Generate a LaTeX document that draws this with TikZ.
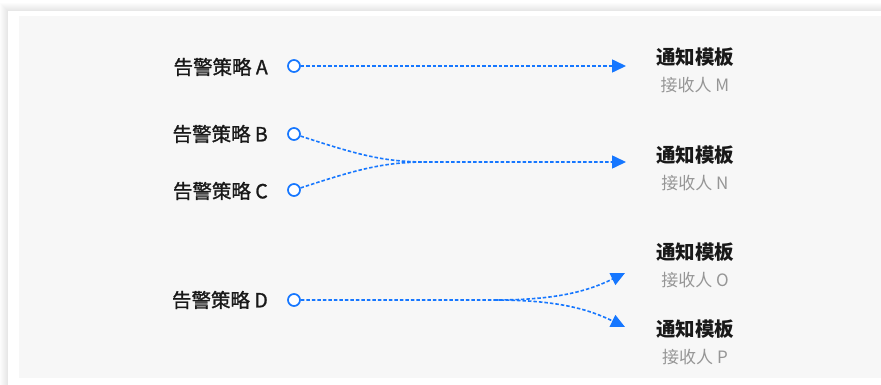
\documentclass[tikz,border=0pt]{standalone}
\usepackage{fontspec}
\setmainfont{Noto Sans CJK SC}
\newfontfamily\medfont[FakeBold=1.2]{Noto Sans CJK SC}
\usetikzlibrary{arrows.meta,positioning}
\definecolor{flowblue}{RGB}{22,119,255}
\definecolor{panelgray}{RGB}{247,247,247}
\definecolor{subgray}{RGB}{150,150,150}
\tikzset{
  srcdot/.style={circle, draw=flowblue, fill=white, line width=1.7pt, minimum size=12pt, inner sep=0pt},
  srclabel/.style={anchor=east, inner sep=0pt, font=\fontsize{19.5}{22}\medfont, text=black!90},
  tpltitle/.style={inner sep=0pt, font=\fontsize{19.5}{22}\selectfont\bfseries, text=black!90},
  tplsub/.style={inner sep=0pt, font=\fontsize{17}{20}\selectfont, text=subgray},
  flowline/.style={-{Triangle[length=14pt,width=13pt]}, draw=flowblue, line width=1.6pt, dash pattern=on 3.5pt off 2pt}
}
\begin{document}
\begin{tikzpicture}[x=1pt, y=-1pt]
\useasboundingbox (0,0) rectangle (881,385);
\fill[white] (0,0) rectangle (881,385);
% card shadow
\foreach \s in {1,...,8}
  \fill[black, opacity=0.012] (8-\s,11-\s) rectangle (890,395);
\fill[white] (8,11) rectangle (890,395);
\fill[panelgray] (19,16) rectangle (881,378);
% sources
\node[srcdot] (a) at (294,66) {};
\node[srcdot] (b) at (294,134) {};
\node[srcdot] (c) at (294,190) {};
\node[srcdot] (d) at (294,300) {};
\node[srclabel] (la) at (268,67) {告警策略 A};
\node[srclabel] (lb) at (268,134) {告警策略 B};
\node[srclabel] (lc) at (268,191) {告警策略 C};
\node[srclabel] (ld) at (268,300) {告警策略 D};
% targets
\coordinate (tm) at (626,66);
\coordinate (tn) at (626,162);
\coordinate (to) at (625,273);
\coordinate (tp) at (625,327);
\node[tpltitle] (m) at (695,57) {通知模板};
\node[tplsub, below=10pt of m] (sm) {接收人 M};
\node[tpltitle] (n) at (695,155) {通知模板};
\node[tplsub, below=10pt of n] (sn) {接收人 N};
\node[tpltitle] (o) at (695,252) {通知模板};
\node[tplsub, below=10pt of o] (so) {接收人 O};
\node[tpltitle] (p) at (695,329) {通知模板};
\node[tplsub, below=10pt of p] (sp) {接收人 P};
% connectors
\coordinate (mbc) at (425,162);
\coordinate (md) at (495,300);
\draw[flowline] (a) -- (tm);
\draw[flowline] (b) .. controls (350,152) and (380,162) .. (mbc) -- (tn);
\draw[flowline, -] (c) .. controls (350,172) and (380,162) .. (mbc);
\draw[flowline] (d) -- (md) .. controls (560,300) and (590,290) .. (to);
\draw[flowline] (md) .. controls (560,300) and (590,310) .. (tp);
\end{tikzpicture}
\end{document}
